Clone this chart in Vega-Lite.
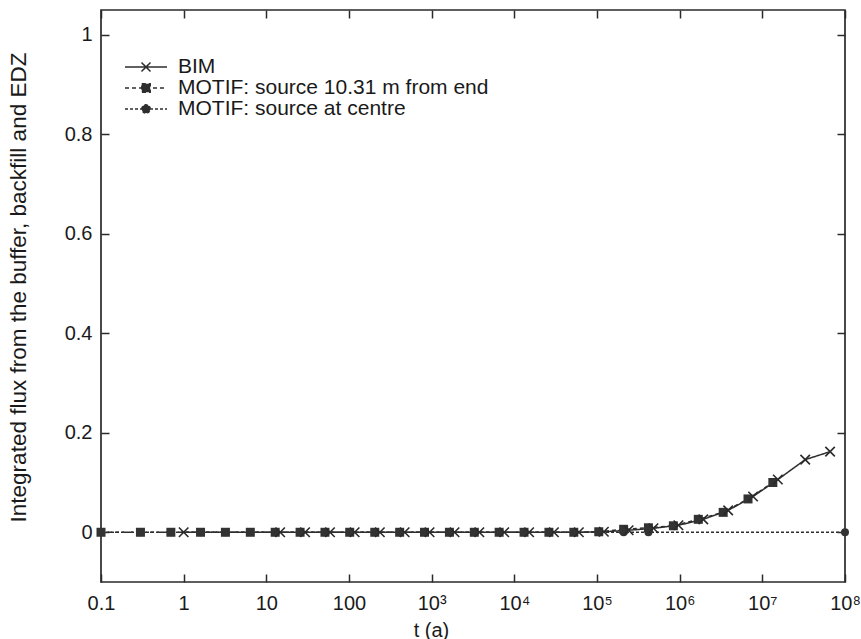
{
  "$schema": "https://vega.github.io/schema/vega-lite/v6.json",
  "width": 744,
  "height": 572,
  "autosize": "none",
  "padding": {"left": 101, "top": 10, "right": 16, "bottom": 57},
  "background": "white",
  "config": {
    "view": {"stroke": "#2a2a2a", "strokeWidth": 1.7},
    "font": "Liberation Sans",
    "axis": {"grid": false, "domain": false, "labelColor": "#1a1a1a", "titleColor": "#1a1a1a", "tickColor": "#2a2a2a", "tickWidth": 1.5, "titleFontWeight": "normal"}
  },
  "data": {
    "values": [
      {"series": "BIM", "t": 1, "flux": 0},
      {"series": "BIM", "t": 14.7, "flux": 0},
      {"series": "BIM", "t": 29.4, "flux": 0},
      {"series": "BIM", "t": 58.9, "flux": 0},
      {"series": "BIM", "t": 117, "flux": 0},
      {"series": "BIM", "t": 236, "flux": 0},
      {"series": "BIM", "t": 471, "flux": 0},
      {"series": "BIM", "t": 942, "flux": 0},
      {"series": "BIM", "t": 1890, "flux": 0},
      {"series": "BIM", "t": 3770, "flux": 0},
      {"series": "BIM", "t": 7540, "flux": 0},
      {"series": "BIM", "t": 15100, "flux": 0},
      {"series": "BIM", "t": 30100, "flux": 0},
      {"series": "BIM", "t": 60300, "flux": 0},
      {"series": "BIM", "t": 121000, "flux": 0.001},
      {"series": "BIM", "t": 241000, "flux": 0.004},
      {"series": "BIM", "t": 482000, "flux": 0.008},
      {"series": "BIM", "t": 965000, "flux": 0.014},
      {"series": "BIM", "t": 1930000, "flux": 0.026},
      {"series": "BIM", "t": 3860000, "flux": 0.044},
      {"series": "BIM", "t": 7720000, "flux": 0.072},
      {"series": "BIM", "t": 15400000, "flux": 0.106},
      {"series": "BIM", "t": 33000000, "flux": 0.146},
      {"series": "BIM", "t": 66000000, "flux": 0.162},
      {"series": "MOTIF: source 10.31 m from end", "t": 0.1, "flux": 0},
      {"series": "MOTIF: source 10.31 m from end", "t": 0.3, "flux": 0},
      {"series": "MOTIF: source 10.31 m from end", "t": 0.7, "flux": 0},
      {"series": "MOTIF: source 10.31 m from end", "t": 1.6, "flux": 0},
      {"series": "MOTIF: source 10.31 m from end", "t": 3.2, "flux": 0},
      {"series": "MOTIF: source 10.31 m from end", "t": 6.4, "flux": 0},
      {"series": "MOTIF: source 10.31 m from end", "t": 12.8, "flux": 0},
      {"series": "MOTIF: source 10.31 m from end", "t": 25.6, "flux": 0},
      {"series": "MOTIF: source 10.31 m from end", "t": 51.2, "flux": 0},
      {"series": "MOTIF: source 10.31 m from end", "t": 102, "flux": 0},
      {"series": "MOTIF: source 10.31 m from end", "t": 205, "flux": 0},
      {"series": "MOTIF: source 10.31 m from end", "t": 410, "flux": 0},
      {"series": "MOTIF: source 10.31 m from end", "t": 819, "flux": 0},
      {"series": "MOTIF: source 10.31 m from end", "t": 1640, "flux": 0},
      {"series": "MOTIF: source 10.31 m from end", "t": 3280, "flux": 0},
      {"series": "MOTIF: source 10.31 m from end", "t": 6550, "flux": 0},
      {"series": "MOTIF: source 10.31 m from end", "t": 13100, "flux": 0},
      {"series": "MOTIF: source 10.31 m from end", "t": 26200, "flux": 0},
      {"series": "MOTIF: source 10.31 m from end", "t": 52400, "flux": 0},
      {"series": "MOTIF: source 10.31 m from end", "t": 105000, "flux": 0.001},
      {"series": "MOTIF: source 10.31 m from end", "t": 210000, "flux": 0.006},
      {"series": "MOTIF: source 10.31 m from end", "t": 419000, "flux": 0.009},
      {"series": "MOTIF: source 10.31 m from end", "t": 839000, "flux": 0.013},
      {"series": "MOTIF: source 10.31 m from end", "t": 1680000, "flux": 0.026},
      {"series": "MOTIF: source 10.31 m from end", "t": 3360000, "flux": 0.04},
      {"series": "MOTIF: source 10.31 m from end", "t": 6710000, "flux": 0.067},
      {"series": "MOTIF: source 10.31 m from end", "t": 13400000, "flux": 0.1},
      {"series": "MOTIF: source at centre", "t": 0.1, "flux": 0},
      {"series": "MOTIF: source at centre", "t": 0.3, "flux": 0},
      {"series": "MOTIF: source at centre", "t": 0.7, "flux": 0},
      {"series": "MOTIF: source at centre", "t": 1.6, "flux": 0},
      {"series": "MOTIF: source at centre", "t": 3.2, "flux": 0},
      {"series": "MOTIF: source at centre", "t": 6.4, "flux": 0},
      {"series": "MOTIF: source at centre", "t": 12.8, "flux": 0},
      {"series": "MOTIF: source at centre", "t": 25.6, "flux": 0},
      {"series": "MOTIF: source at centre", "t": 51.2, "flux": 0},
      {"series": "MOTIF: source at centre", "t": 102, "flux": 0},
      {"series": "MOTIF: source at centre", "t": 205, "flux": 0},
      {"series": "MOTIF: source at centre", "t": 410, "flux": 0},
      {"series": "MOTIF: source at centre", "t": 819, "flux": 0},
      {"series": "MOTIF: source at centre", "t": 1640, "flux": 0},
      {"series": "MOTIF: source at centre", "t": 3280, "flux": 0},
      {"series": "MOTIF: source at centre", "t": 6550, "flux": 0},
      {"series": "MOTIF: source at centre", "t": 13100, "flux": 0},
      {"series": "MOTIF: source at centre", "t": 26200, "flux": 0},
      {"series": "MOTIF: source at centre", "t": 52400, "flux": 0},
      {"series": "MOTIF: source at centre", "t": 105000, "flux": 0},
      {"series": "MOTIF: source at centre", "t": 210000, "flux": 0},
      {"series": "MOTIF: source at centre", "t": 419000, "flux": 0},
      {"series": "MOTIF: source at centre", "t": 100000000, "flux": 0}
    ]
  },
  "encoding": {
    "x": {"field": "t", "type": "quantitative", "scale": {"type": "log", "domain": [0.1, 100000000], "nice": false}},
    "y": {"field": "flux", "type": "quantitative", "scale": {"domain": [-0.1, 1.05], "nice": false, "zero": false}}
  },
  "layer": [
    {
      "layer": [
        {
          "mark": {"type": "line", "color": "#2e2e2e", "strokeWidth": 1.5, "clip": true},
          "encoding": {
            "x": {"field": "t", "type": "quantitative", "title": "t (a)",
              "axis": {"orient": "bottom", "values": [0.1, 1, 10, 100, 1000, 10000, 100000, 1000000, 10000000, 100000000],
                "labelExpr": "datum.value < 0.5 ? '0.1' : datum.value < 5 ? '1' : datum.value < 50 ? '10' : datum.value < 500 ? '100' : datum.value < 5e3 ? '10³' : datum.value < 5e4 ? '10⁴' : datum.value < 5e5 ? '10⁵' : datum.value < 5e6 ? '10⁶' : datum.value < 5e7 ? '10⁷' : '10⁸'",
                "tickSize": -8, "labelPadding": 19, "labelFontSize": 20, "labelFlush": false,
                "titleFontSize": 20, "titleX": 330, "titleY": 48, "titleBaseline": "middle", "titleAnchor": null}},
            "y": {"field": "flux", "type": "quantitative", "title": "Integrated flux from the buffer, backfill and EDZ",
              "axis": {"orient": "left", "values": [0, 0.2, 0.4, 0.6, 0.8, 1], "format": "~g",
                "tickSize": -8, "labelPadding": 17, "labelFontSize": 20, "titleFontSize": 22.5,
                "titleX": -83, "titleY": 277, "titleAngle": -90, "titleBaseline": "middle", "titleAlign": "center", "titleAnchor": null}},
            "strokeDash": {"field": "series", "type": "nominal",
              "scale": {"domain": ["BIM", "MOTIF: source 10.31 m from end", "MOTIF: source at centre"], "range": [[1, 0], [4, 3], [3, 2]]},
              "legend": {
                "title": null, "orient": "none", "legendX": 34, "legendY": 46, "padding": 0,
                "labelFontSize": 21, "labelColor": "#1a1a1a", "labelOffset": 21, "rowPadding": 0, "labelLimit": 0,
                "symbolSize": 400, "symbolStrokeWidth": 1.5, "symbolStrokeColor": "#2e2e2e",
                "encode": {"symbols": {"update": {
                  "shape": {"signal": "datum.value === 'BIM' ? 'M-2.1,0H2.1M-0.45,-0.45L0.45,0.45M-0.45,0.45L0.45,-0.45' : datum.value === 'MOTIF: source at centre' ? 'M-2.1,0H2.1M-0.42,0A0.42,0.42,0,1,1,0.42,0A0.42,0.42,0,1,1,-0.42,0Z' : 'M-2.1,0H2.1M-0.42,-0.42H0.42V0.42H-0.42Z'"},
                  "fill": {"signal": "datum.value === 'BIM' ? 'transparent' : '#2e2e2e'"},
                  "stroke": {"value": "#2e2e2e"}
                }}}
              }},
            "order": {"field": "t", "type": "quantitative"}
          }
        },
        {
          "transform": [{"filter": "datum.series === 'MOTIF: source at centre'"}],
          "mark": {"type": "point", "shape": "circle", "filled": true, "size": 64, "color": "#333", "opacity": 1}
        },
        {
          "transform": [{"filter": "datum.series === 'MOTIF: source 10.31 m from end'"}],
          "mark": {"type": "point", "shape": "square", "filled": true, "size": 81, "color": "#333", "opacity": 1}
        },
        {
          "transform": [{"filter": "datum.series === 'BIM'"}],
          "mark": {"type": "point", "shape": "M-1,-1L1,1M-1,1L1,-1", "filled": false, "size": 90, "color": "#2a2a2a", "strokeWidth": 1.6, "opacity": 1}
        }
      ]
    },
    {
      "mark": {"type": "point", "opacity": 0},
      "encoding": {
        "x": {"field": "t", "type": "quantitative",
          "axis": {"orient": "top", "values": [0.1, 1, 10, 100, 1000, 10000, 100000, 1000000, 10000000, 100000000], "labels": false, "tickSize": -8, "title": null}},
        "y": {"field": "flux", "type": "quantitative",
          "axis": {"orient": "right", "values": [0, 0.2, 0.4, 0.6, 0.8, 1], "labels": false, "tickSize": -8, "title": null}}
      }
    }
  ],
  "resolve": {"axis": {"x": "independent", "y": "independent"}}
}
